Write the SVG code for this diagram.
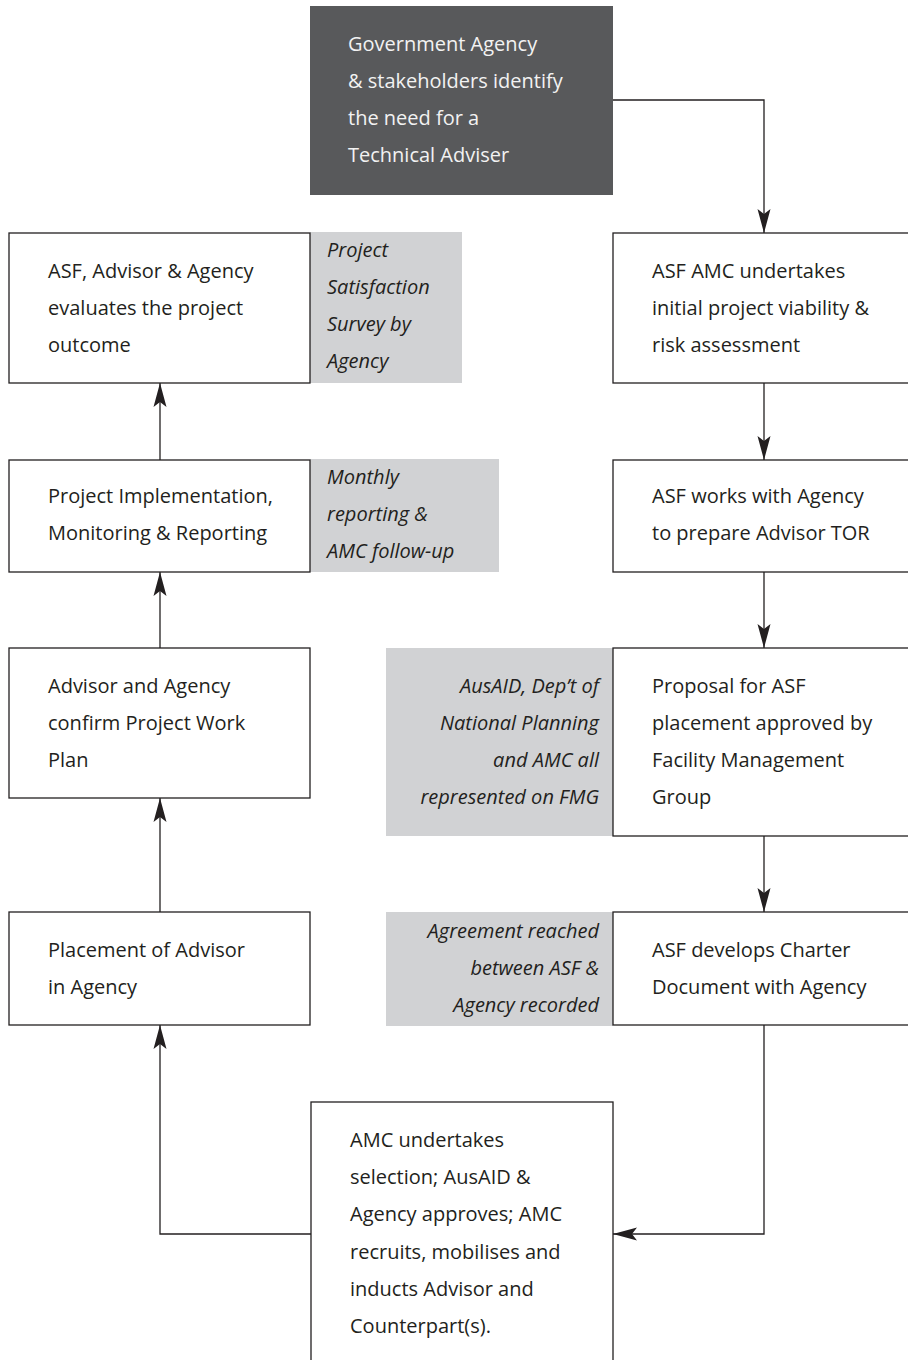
<svg xmlns="http://www.w3.org/2000/svg" width="908" height="1360" viewBox="0 0 908 1360">
<style>
.box{fill:#ffffff;stroke:#231f20;stroke-width:1.3}
.note{fill:#d1d2d4;stroke:none}
.dark{fill:#58595b;stroke:none}
.t{font-family:"Open Sans","Liberation Sans",sans-serif;font-size:20px;fill:#231f20}
.tw{font-family:"Open Sans","Liberation Sans",sans-serif;font-size:20px;fill:#f2f2f2}
.ti{font-family:"Open Sans","Liberation Sans",sans-serif;font-size:20px;font-style:italic;fill:#231f20}
.r{text-anchor:end}
.c{fill:none;stroke:#231f20;stroke-width:1.3}
</style>
<defs>
<marker id="ah" markerUnits="userSpaceOnUse" viewBox="-25 -7 26 14" refX="0" refY="0" markerWidth="26" markerHeight="14" orient="auto">
<path d="M0,0 L-24,-6.5 L-19,0 L-24,6.5 Z" fill="#231f20"/>
</marker>
</defs>
<g id="n-start">
<rect class="dark" x="310" y="6" width="303" height="189"/>
<text class="tw" x="348" y="51">Government Agency</text>
<text class="tw" x="348" y="88">&amp; stakeholders identify</text>
<text class="tw" x="348" y="125">the need for a</text>
<text class="tw" x="348" y="162">Technical Adviser</text>
</g>
<g id="n-note1">
<rect class="note" x="310" y="232" width="152" height="151"/>
<text class="ti" x="327" y="257">Project</text>
<text class="ti" x="327" y="294">Satisfaction</text>
<text class="ti" x="327" y="331">Survey by</text>
<text class="ti" x="327" y="368">Agency</text>
</g>
<g id="n-note2">
<rect class="note" x="310" y="459" width="189" height="113"/>
<text class="ti" x="327" y="484">Monthly</text>
<text class="ti" x="327" y="521">reporting &amp;</text>
<text class="ti" x="327" y="558">AMC follow-up</text>
</g>
<g id="n-note3">
<rect class="note" x="386" y="648" width="227" height="188"/>
<text class="ti r" x="599" y="693">AusAID, Dep’t of</text>
<text class="ti r" x="599" y="730">National Planning</text>
<text class="ti r" x="599" y="767">and AMC all</text>
<text class="ti r" x="599" y="804">represented on FMG</text>
</g>
<g id="n-note4">
<rect class="note" x="386" y="912" width="227" height="114"/>
<text class="ti r" x="599" y="938">Agreement reached</text>
<text class="ti r" x="599" y="975">between ASF &amp;</text>
<text class="ti r" x="599" y="1012">Agency recorded</text>
</g>
<g id="n-evaluate">
<rect class="box" x="9" y="233" width="301" height="150"/>
<text class="t" x="48" y="278">ASF, Advisor &amp; Agency</text>
<text class="t" x="48" y="315">evaluates the project</text>
<text class="t" x="48" y="352">outcome</text>
</g>
<g id="n-implement">
<rect class="box" x="9" y="460" width="301" height="112"/>
<text class="t" x="48" y="503">Project Implementation,</text>
<text class="t" x="48" y="540">Monitoring &amp; Reporting</text>
</g>
<g id="n-workplan">
<rect class="box" x="9" y="648" width="301" height="150"/>
<text class="t" x="48" y="693">Advisor and Agency</text>
<text class="t" x="48" y="730">confirm Project Work</text>
<text class="t" x="48" y="767">Plan</text>
</g>
<g id="n-placement">
<rect class="box" x="9" y="912" width="301" height="113"/>
<text class="t" x="48" y="957">Placement of Advisor</text>
<text class="t" x="48" y="994">in Agency</text>
</g>
<g id="n-viability">
<rect class="box" x="613" y="233" width="310" height="150"/>
<text class="t" x="652" y="278">ASF AMC undertakes</text>
<text class="t" x="652" y="315">initial project viability &amp;</text>
<text class="t" x="652" y="352">risk assessment</text>
</g>
<g id="n-tor">
<rect class="box" x="613" y="460" width="310" height="112"/>
<text class="t" x="652" y="503">ASF works with Agency</text>
<text class="t" x="652" y="540">to prepare Advisor TOR</text>
</g>
<g id="n-proposal">
<rect class="box" x="613" y="648" width="310" height="188"/>
<text class="t" x="652" y="693">Proposal for ASF</text>
<text class="t" x="652" y="730">placement approved by</text>
<text class="t" x="652" y="767">Facility Management</text>
<text class="t" x="652" y="804">Group</text>
</g>
<g id="n-charter">
<rect class="box" x="613" y="912" width="310" height="113"/>
<text class="t" x="652" y="957">ASF develops Charter</text>
<text class="t" x="652" y="994">Document with Agency</text>
</g>
<g id="n-selection">
<rect class="box" x="311" y="1102" width="302" height="300"/>
<text class="t" x="350" y="1147">AMC undertakes</text>
<text class="t" x="350" y="1184">selection; AusAID &amp;</text>
<text class="t" x="350" y="1221">Agency approves; AMC</text>
<text class="t" x="350" y="1259">recruits, mobilises and</text>
<text class="t" x="350" y="1296">inducts Advisor and</text>
<text class="t" x="350" y="1333">Counterpart(s).</text>
</g>
<g id="connectors">
<path class="c" d="M613,100 H764 V233" marker-end="url(#ah)"/>
<path class="c" d="M764,383 V460" marker-end="url(#ah)"/>
<path class="c" d="M764,572 V648" marker-end="url(#ah)"/>
<path class="c" d="M764,836 V912" marker-end="url(#ah)"/>
<path class="c" d="M764,1025 V1234 H613" marker-end="url(#ah)"/>
<path class="c" d="M311,1234 H160 V1025" marker-end="url(#ah)"/>
<path class="c" d="M160,912 V798" marker-end="url(#ah)"/>
<path class="c" d="M160,648 V572" marker-end="url(#ah)"/>
<path class="c" d="M160,460 V383" marker-end="url(#ah)"/>
</g>
</svg>
